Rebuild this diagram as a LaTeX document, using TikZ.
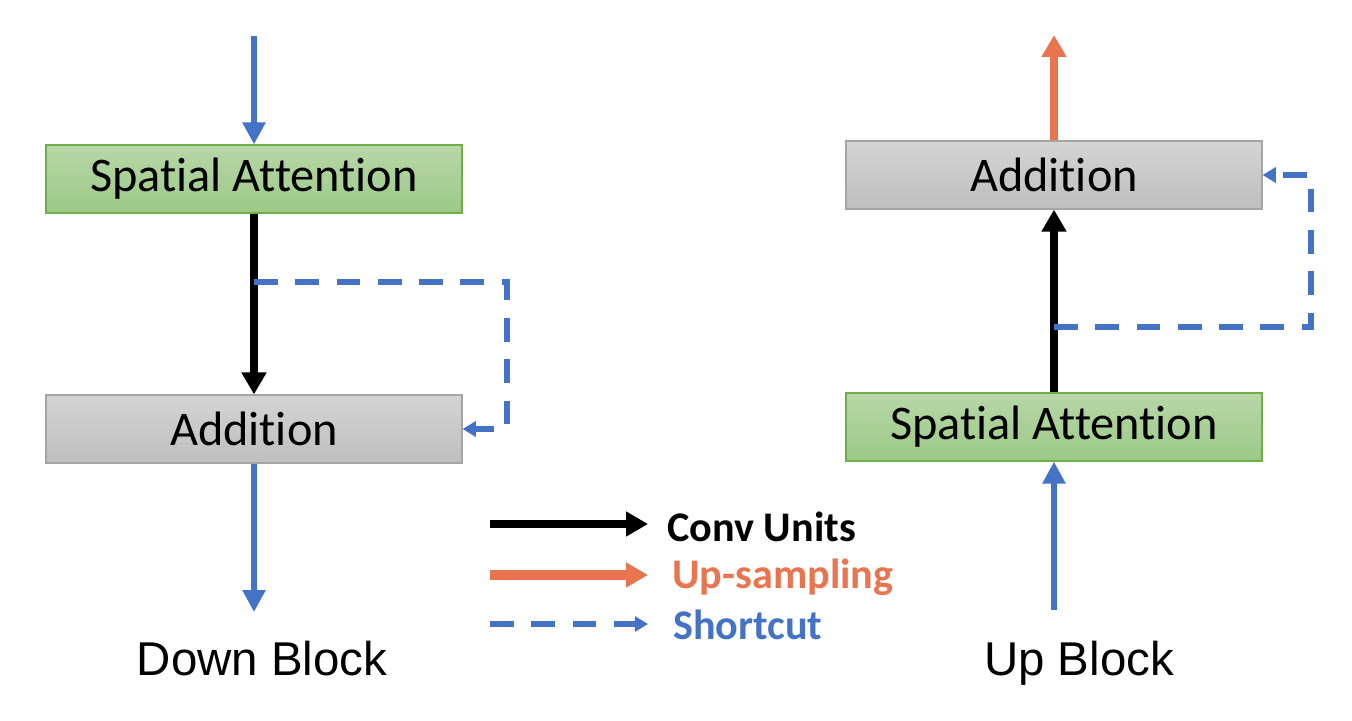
\documentclass[tikz,border=0pt]{standalone}
\usepackage{fontspec}
\setmainfont{Carlito}[Ligatures=CommonOff]
\newfontfamily\blockfont{Liberation Sans}
\usetikzlibrary{arrows.meta}
\usetikzlibrary{positioning}

\definecolor{shortblue}{HTML}{4472C4}
\definecolor{uporange}{HTML}{E97450}
\definecolor{atttop}{HTML}{B7D7A8}
\definecolor{attbot}{HTML}{9CC987}
\definecolor{attline}{HTML}{70AD47}
\definecolor{addtop}{HTML}{D4D4D4}
\definecolor{addbot}{HTML}{BEBEBE}
\definecolor{addline}{HTML}{A5A5A5}

\begin{document}
\begin{tikzpicture}[
    x=0.02cm, y=-0.02cm,
    font=\fontsize{27.5}{32}\selectfont
]
\tikzset{
    attnode/.style = {rectangle, draw=attline, line width=0.7pt, top color=atttop, bottom color=attbot, minimum width=8.32cm, minimum height=1.36cm, inner sep=0pt, align=center},
    addnode/.style = {rectangle, draw=addline, line width=0.7pt, top color=addtop, bottom color=addbot, minimum width=8.32cm, minimum height=1.36cm, inner sep=0pt, align=center},
    legtext/.style = {anchor=west, inner sep=0pt, font=\bfseries\fontsize{24}{28}\selectfont},
    edgec/.style = {-{Triangle[length=12.5pt,width=13.5pt]}, line width=4.4pt, black},
    edgeu/.style = {-{Triangle[length=12.5pt,width=13.5pt]}, line width=4.6pt, uporange},
    edgei/.style = {-{Triangle[length=12.5pt,width=12.5pt]}, line width=3.4pt, shortblue},
    edgesh/.style = {-{Triangle[length=7.5pt,width=8.5pt]}, shortblue, line width=3pt, dash pattern=on 13.5pt off 10pt}
}
\useasboundingbox (0,0) rectangle (1352,720);
% down block
\node[attnode] at (254,179) (sa1) {Spatial Attention};
\node[addnode] at (254,429) (ad1) {Addition};
\coordinate (in1) at (254,36);
\coordinate (out1) at (254,612);
\coordinate (br1) at (254,282);
\coordinate (cr1) at (507,429);
\draw[edgei] (in1) -- (sa1.north);
\draw[edgec] (sa1.south) -- (ad1.north);
\draw[edgei] (ad1.south) -- (out1);
\draw[edgesh] (br1) -| (cr1) -- (ad1.east);
\node[anchor=base, font=\blockfont\fontsize{27}{32}\selectfont] at (262,675) (lb1) {Down Block};
% up block
\node[addnode] at (1054,175) (ad2) {Addition};
\node[attnode] at (1054,427) (sa2) {Spatial Attention};
\coordinate (in2) at (1054,610);
\coordinate (out2) at (1054,35);
\coordinate (br2) at (1054,327);
\coordinate (cr2) at (1311,175);
\draw[edgei] (in2) -- (sa2.south);
\draw[edgec] (sa2.north) -- (ad2.south);
\draw[edgeu] (ad2.north) -- (out2);
\draw[edgesh] (br2) -| (cr2) -- (ad2.east);
\node[anchor=base, font=\blockfont\fontsize{27}{32}\selectfont] at (1079,675) (lb2) {Up Block};
% legend
\coordinate (lc1) at (490,524);
\coordinate (lc2) at (648,524);
\coordinate (lu1) at (490,575);
\coordinate (lu2) at (648,575);
\coordinate (ls1) at (490,624);
\coordinate (ls2) at (648,624);
\draw[edgec] (lc1) -- (lc2);
\draw[edgeu, line width=5.4pt] (lu1) -- (lu2);
\draw[edgesh] (ls1) -- (ls2);
\node[legtext] at (667,527) (tc) {Conv Units};
\node[legtext, text=uporange] at (672,577) (tu) {Up-sampling};
\node[legtext, text=shortblue] at (673,625) (ts) {Shortcut};
\end{tikzpicture}
\end{document}
